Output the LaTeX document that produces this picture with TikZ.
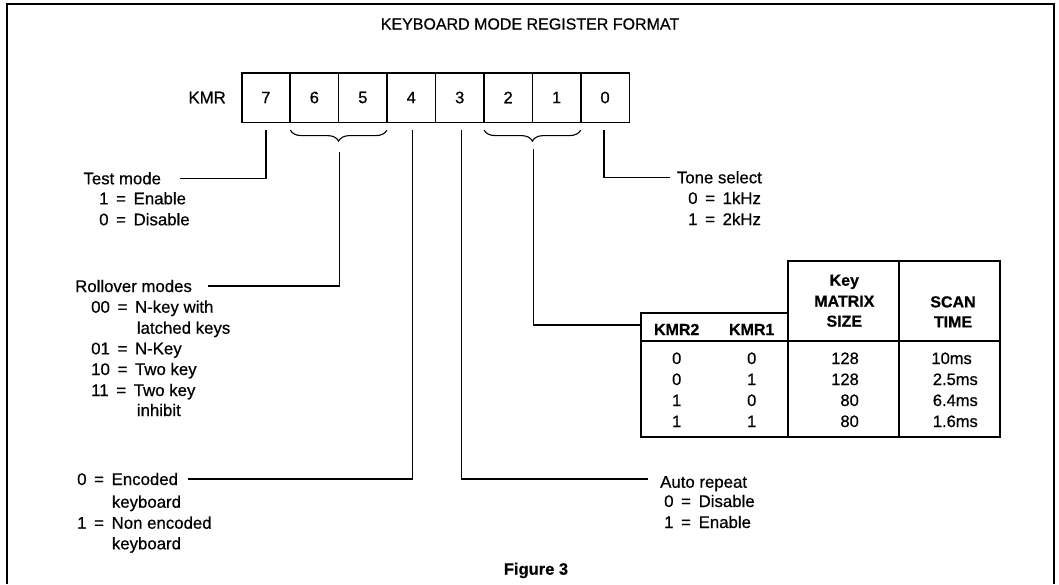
\documentclass[tikz,border=0pt]{standalone}
\usepackage{fontspec}
\setmainfont{Liberation Sans}
\newfontfamily\medfont{Liberation Sans}[FakeBold=0.6]
\newcommand\eqs{\kern3pt=\kern3pt}
\usetikzlibrary{decorations.pathreplacing,calc}
\begin{document}
\begin{tikzpicture}[x=1pt,y=-1pt,
  txt/.style={anchor=base west,inner sep=0pt,font=\medfont\fontsize{16.8}{21}\selectfont},
  ttl/.style={inner sep=0pt,font=\medfont\fontsize{16}{20}\selectfont},
  hd/.style={anchor=base,inner sep=0pt,font=\medfont\fontsize{16}{20}\selectfont\bfseries},
  val/.style={anchor=base,inner sep=0pt,font=\medfont\fontsize{16.5}{20}\selectfont},
  vale/.style={anchor=base east,inner sep=0pt,font=\medfont\fontsize{16.5}{20}\selectfont},
  cell/.style={draw,line width=1.6pt,minimum width=48.45pt,minimum height=49.6pt,inner sep=0pt,font=\medfont\fontsize{16.5}{20}\selectfont},
  lead/.style={line width=1.2pt},
  tbl/.style={line width=1.6pt},
  brc/.style={decorate,decoration={brace,amplitude=11pt},line width=1.1pt},
  frame/.style={line width=1.4pt}
]
\useasboundingbox (0,0) rectangle (1059,584);
% outer frame
\draw[frame] (7,584) -- (7,4) -- (1054,4) -- (1054,584);
% title
\node[ttl] (title) at (530,24) {KEYBOARD MODE REGISTER FORMAT};
% register
\node[anchor=east,inner sep=0pt,font=\medfont\fontsize{16.8}{20}\selectfont] (kmr) at (226,97.5) {KMR};
\foreach \i/\b in {0/7,1/6,2/5,3/4,4/3,5/2,6/1,7/0}
  \node[cell] (b\b) at ({241.7+48.45*(\i+0.5)},97.5) {\b};
% braces
\draw[brc] ($(b5.south east)+(-1,7)$) -- ($(b6.south west)+(1,7)$);
\draw[brc] ($(b1.south east)+(-1,7)$) -- ($(b2.south west)+(1,7)$);
% connector end points
\coordinate (tmEnd) at (180,178.3);
\coordinate (roEnd) at (208.3,286);
\coordinate (enEnd) at (188,479);
\coordinate (arEnd) at (648.3,479);
\coordinate (tsEnd) at (670,177.3);
\coordinate (tblIn) at (641,325);
% connectors
\draw[lead] ($(b7.south)+(0,6.7)$) |- (tmEnd);
\draw[lead] ($(b6.south east)+(0,29)$) |- (roEnd);
\draw[lead] ($(b4.south)+(1.5,6.7)$) |- (enEnd);
\draw[lead] ($(b3.south)+(2,6.7)$) |- (arEnd);
\draw[lead] ($(b2.south east)+(0,26)$) |- (tblIn);
\draw[lead] ($(b0.south)+(-1,6.7)$) |- (tsEnd);
% test mode
\node[txt] (tm) at (83.3,184.3) {Test mode};
\node[txt] (tm1) at (99,204.3) {1 \eqs{} Enable};
\node[txt] (tm0) at (99,225.3) {0 \eqs{} Disable};
% rollover
\node[txt] (ro) at (75,292) {Rollover modes};
\node[txt] (ro00) at (91,312.7) {00 \eqs{} N-key with};
\node[txt] (ro00b) at (136.7,333.7) {latched keys};
\node[txt] (ro01) at (91,354.3) {01 \eqs{} N-Key};
\node[txt] (ro10) at (91,375) {10 \eqs{} Two key};
\node[txt] (ro11) at (91,396) {11 \eqs{} Two key};
\node[txt] (ro11b) at (136.7,416) {inhibit};
% encoded
\node[txt] (en0) at (77,485) {0 \eqs{} Encoded};
\node[txt] (en0b) at (111.7,507.7) {keyboard};
\node[txt] (en1) at (77,528.7) {1 \eqs{} Non encoded};
\node[txt] (en1b) at (111.7,549.3) {keyboard};
% tone select
\node[txt] (ts) at (676.7,183.3) {Tone select};
\node[txt] (ts0) at (688,204) {0 \eqs{} 1kHz};
\node[txt] (ts1) at (688,225) {1 \eqs{} 2kHz};
% auto repeat
\node[txt] (ar) at (660,487.7) {Auto repeat};
\node[txt] (ar0) at (664,507) {0 \eqs{} Disable};
\node[txt] (ar1) at (664,528) {1 \eqs{} Enable};
% table
\draw[tbl] (787.7,260.7) rectangle (1000,436.7);
\draw[tbl] (641,312.7) rectangle (787.7,436.7);
\draw[tbl] (899,260.7) -- (899,436.7);
\draw[tbl] (641,340.7) -- (1000,340.7);
\node[hd] (h1) at (676.7,335) {KMR2};
\node[hd] (h2) at (751.7,335) {KMR1};
\node[hd] (h3a) at (844.3,285.7) {Key};
\node[hd] (h3b) at (844.3,306.7) {MATRIX};
\node[hd] (h3c) at (844.3,326.7) {SIZE};
\node[hd] (h4a) at (953,307.4) {SCAN};
\node[hd] (h4b) at (953,327.4) {TIME};
\foreach \y/\a/\b/\c/\d/\e in {364/0/0/128/10ms/972,385/0/1/128/2.5ms/978,406/1/0/80/6.4ms/978,427/1/1/80/1.6ms/978}{
  \node[val] at (676.7,\y) {\a};
  \node[val] at (751.7,\y) {\b};
  \node[vale] at (859,\y) {\c};
  \node[vale] at (\e,\y) {\d};
}
% caption
\node[anchor=base,inner sep=0pt,font=\medfont\fontsize{16.5}{20}\selectfont\bfseries] (fig) at (536,574.7) {Figure 3};
\end{tikzpicture}
\end{document}
